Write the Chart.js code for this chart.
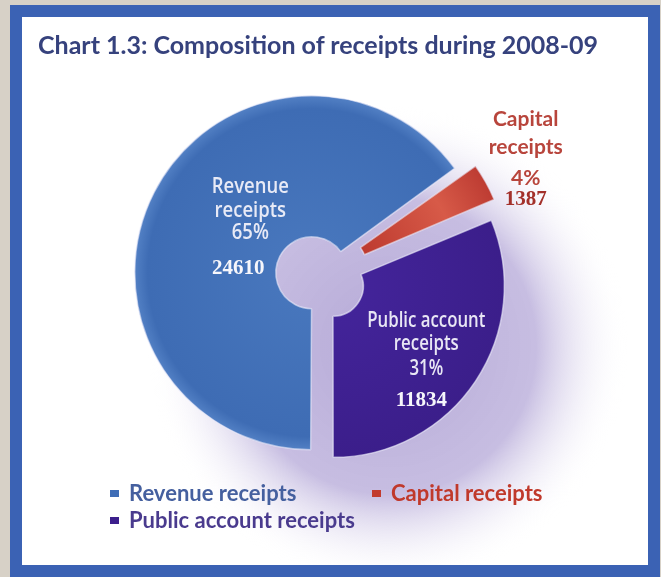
<!DOCTYPE html>
<html>
<head>
<meta charset="utf-8">
<script src="https://cdn.jsdelivr.net/npm/chart.js@4.4.1/dist/chart.umd.min.js"></script>
<style>
  html, body { margin: 0; padding: 0; }
  body { width: 661px; height: 577px; position: relative; overflow: hidden; background: #d7d1c7; }
  #frame { position: absolute; left: 10px; top: 5px; width: 626px; height: 548px; border: 12px solid #3b62b4; background: #fff; }
  #grafica { position: absolute; left: 0; top: 0; }
  #title { position: absolute; left: 16px; top: 12px; font: bold 25px Lato, sans-serif; color: #36427d; white-space: nowrap; }
  .leg { position: absolute; font: bold 22px Lato, sans-serif; white-space: nowrap; line-height: 24px; }
  .leg i { display: inline-block; width: 9px; height: 7px; margin-right: 10px; vertical-align: 4px; }
</style>
</head>
<body>
<div id="frame">
  <canvas id="grafica" width="626" height="548"></canvas>
  <div id="title">Chart 1.3: Composition of receipts during 2008-09</div>
  <div id="legend"></div>
</div>
<script>
// receipts 2008-09
const categories = ['Revenue receipts', 'Capital receipts', 'Public account receipts'];
const nameLines = [['Revenue', 'receipts'], ['Capital', 'receipts'], ['Public account', 'receipts']];
const receipts = [24610, 1387, 11834];
const sliceColors = ['#3f6db6', '#c23b2e', '#3c1f8c'];
const legendColors = ['#45609f', '#c0392b', '#4a3b8e'];

const total = receipts.reduce((a, b) => a + b, 0);

// leyenda en html, dos columnas
const legendPos = [[88, 464], [350, 464], [88, 491]];
const legend = document.getElementById('legend');
categories.forEach((name, i) => {
  const d = document.createElement('div');
  d.className = 'leg';
  d.style.left = legendPos[i][0] + 'px';
  d.style.top = legendPos[i][1] + 'px';
  d.style.color = legendColors[i];
  d.innerHTML = '<i style="background:' + sliceColors[i] + '"></i>' + name;
  legend.appendChild(d);
});

// relleno con algo de volumen
function fill(c) {
  const base = sliceColors[c.dataIndex];
  const area = c.chart.chartArea;
  if (!area) return base;
  const cx = (area.left + area.right) / 2;
  const cy = (area.top + area.bottom) / 2;
  const g = c.chart.ctx.createRadialGradient(cx, cy, 20, cx, cy, 200);
  if (c.dataIndex === 0) {
    g.addColorStop(0, '#4877bd');
    g.addColorStop(0.8, '#3e6cb4');
    g.addColorStop(0.88, '#5482c6');
    g.addColorStop(0.92, '#3763ab');
    g.addColorStop(1, '#3560a8');
  } else if (c.dataIndex === 1) {
    g.addColorStop(0, '#b8342a');
    g.addColorStop(0.6, '#d75a48');
    g.addColorStop(1, '#b3302a');
  } else {
    g.addColorStop(0, '#43249a');
    g.addColorStop(0.85, '#3b1e8a');
    g.addColorStop(1, '#32177a');
  }
  return g;
}

// sombra lila detras de la tarta, cargada abajo a la derecha
const haze = {
  id: 'haze',
  beforeDatasetsDraw(chart) {
    const { ctx, chartArea } = chart;
    const cx = (chartArea.left + chartArea.right) / 2 + 70;
    const cy = (chartArea.top + chartArea.bottom) / 2 + 70;
    const g = ctx.createRadialGradient(cx, cy, 10, cx, cy, 240);
    g.addColorStop(0, 'rgba(182,170,215,1)');
    g.addColorStop(0.6, 'rgba(196,186,224,0.95)');
    g.addColorStop(1, 'rgba(255,255,255,0)');
    ctx.save();
    ctx.fillStyle = g;
    ctx.fillRect(0, 0, chart.width, chart.height);
    ctx.restore();
  }
};

// textos dentro y fuera de cada sector
const sliceLabels = {
  id: 'sliceLabels',
  afterDatasetsDraw(chart, args, opts) {
    const { ctx } = chart;
    const arcs = chart.getDatasetMeta(0).data;
    arcs.forEach((arc, i) => {
      const p = opts.place[i];
      const mid = (arc.startAngle + arc.endAngle) / 2;
      const x = arc.x + Math.cos(mid) * p.r + p.dx;
      const y = arc.y + Math.sin(mid) * p.r + p.dy;
      const pct = Math.round(receipts[i] / total * 100) + '%';
      const lines = [...nameLines[i], pct];
      ctx.save();
      ctx.translate(x, y);
      ctx.textAlign = 'center';
      ctx.textBaseline = 'middle';
      ctx.save();
      ctx.scale(p.squeeze, 1); // letra estrecha
      ctx.fillStyle = p.color;
      ctx.font = p.font;
      lines.forEach((t, k) => ctx.fillText(t, 0, p.lines[k]));
      ctx.restore();
      ctx.fillStyle = p.numColor;
      ctx.font = 'bold 21px "Liberation Serif", serif';
      ctx.fillText(String(receipts[i]), p.numDx, p.lines[3]);
      ctx.restore();
    });
  }
};

new Chart(document.getElementById('grafica'), {
  type: 'doughnut',
  data: {
    labels: categories,
    datasets: [{
      data: receipts,
      backgroundColor: fill,
      borderColor: 'rgba(235,235,250,0.6)',
      borderWidth: 1.5,
      offset: [28, 50, 72]
    }]
  },
  options: {
    responsive: false,
    animation: false,
    devicePixelRatio: 1,
    rotation: 180,
    radius: 170,
    cutout: '17%',
    layout: { padding: { left: 0, top: 0, right: 34, bottom: 30 } },
    plugins: {
      legend: { display: false },
      tooltip: { enabled: false },
      sliceLabels: {
        place: [
          { r: 85, dx: 8, dy: -9, lines: [-41, -17, 5, 40], numDx: -12, squeeze: 0.88, color: '#e8eaf6', numColor: '#f6f6fb', font: '600 21px "Open Sans", sans-serif' },
          { r: 238, dx: 0, dy: 0, lines: [-41, -13, 18, 40], numDx: 0, squeeze: 1, color: '#b8453c', numColor: '#a3302a', font: 'bold 21px Lato, sans-serif' },
          { r: 135, dx: -4, dy: 10, lines: [-40, -17, 8, 40], numDx: -5, squeeze: 0.8, color: '#e8e6f4', numColor: '#f6f6fb', font: '600 21px "Open Sans", sans-serif' }
        ]
      }
    }
  },
  plugins: [haze, sliceLabels]
});
</script>
</body>
</html>
